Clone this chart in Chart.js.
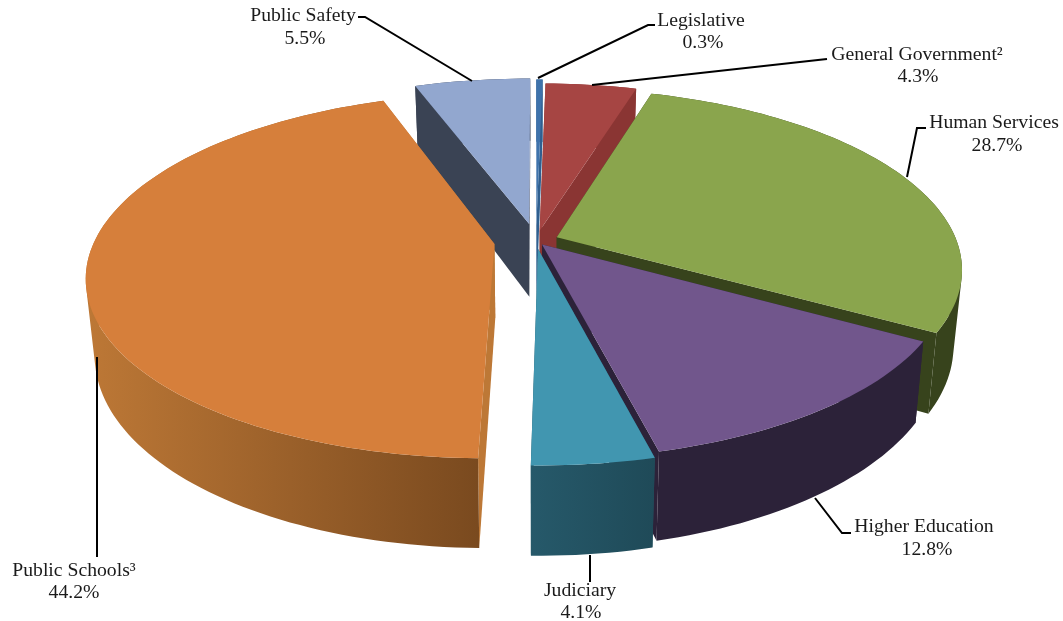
<!DOCTYPE html>
<html>
<head>
<meta charset="utf-8">
<title>Pie</title>
<script src="https://cdn.jsdelivr.net/npm/chart.js@4"></script>
<style>
    html, body { margin: 0; padding: 0; background: #fff; }
    canvas { display: block; }
</style>
</head>
<body>
<canvas id="chart" width="1063" height="621"></canvas>
<script>
const categories = ["Legislative", "General Government\u00B2", "Human Services", "Higher Education", "Judiciary", "Public Schools\u00B3", "Public Safety"];
const shares = [0.3, 4.3, 28.7, 12.8, 4.1, 44.2, 5.5];
const explodePercent = [9, 6, 5.6, 2.5, 4.5, 10.5, 10];

const topColors = ["#3f73ab", "#a64543", "#8aa54d", "#71568c", "#4196b0", "#d67f3b", "#92a7cf"];
const sideColors = ["#2f5f8f", "#8a3533", "#37431c", "#2c2239", "#245463", "#bd7836", "#3a4354"];
const wallStart = ["#2f5f8f", "#8a3533", "#37431c", "#2c2239", "#26596a", "#bd7836", "#3a4354"];
const wallEnd = ["#2f5f8f", "#8a3533", "#37431c", "#2c2239", "#1f4a58", "#7a4a1f", "#3a4354"];

// label text position: centre x of name, centre x of percent, y of name
const labelSpots = [[701, 703, 20.5], [917, 918, 54.5], [994, 997, 123], [924, 927, 527], [580, 581, 590.5], [74, 74, 570.5], [303, 305, 16]];
const leaderLines = [
    [[538, 78], [648, 25], [655, 25]],
    [[592, 85], [827, 59]],
    [[907, 177], [917, 128], [926, 128]],
    [[815, 498], [842, 533], [851, 533]],
    [[590, 555], [590, 582]],
    [[97, 357], [97, 557]],
    [[472, 81], [365, 17], [358, 17]],
];

// view of the tilted disc
const view = { cx: 536, cy: 241, rx: 400, ry: 176, persp: 0.173, depth: 74, shrink: 0.02 };

function project(u, v, low) {
    const w = 1 - view.persp * v;
    let x = view.cx + view.rx * u / w;
    let y = view.cy + view.ry * v / w;
    if (low) {
        x = view.cx + (x - view.cx) * (1 - view.shrink);
        y += view.depth / w;
    }
    return [x, y];
}

function arcPoints(s, low) {
    const pts = [];
    const steps = Math.max(4, Math.ceil((s.end - s.start) * 40));
    for (let i = 0; i <= steps; i++) {
        const a = s.start + (s.end - s.start) * i / steps;
        pts.push(project(s.ox + Math.cos(a), s.oy + Math.sin(a), low));
    }
    return pts;
}

function tracePoly(ctx, pts) {
    pts.forEach((p, i) => (i ? ctx.lineTo(p[0], p[1]) : ctx.moveTo(p[0], p[1])));
    ctx.closePath();
}

function fillPoly(ctx, pts, fill) {
    ctx.beginPath();
    tracePoly(ctx, pts);
    ctx.fillStyle = fill;
    ctx.fill();
}

function signedArea(pts) {
    let sum = 0;
    pts.forEach((p, i) => {
        const q = pts[(i + 1) % pts.length];
        sum += p[0] * q[1] - q[0] * p[1];
    });
    return sum;
}

function drawSlice(ctx, s) {
    const apexTop = project(s.ox, s.oy, false);
    const apexLow = project(s.ox, s.oy, true);
    const top = arcPoints(s, false);
    const low = arcPoints(s, true);
    const last = top.length - 1;

    // radial walls
    fillPoly(ctx, [apexTop, top[0], low[0], apexLow], sideColors[s.index]);
    fillPoly(ctx, [apexTop, top[last], low[last], apexLow], sideColors[s.index]);

    // rim wall: all quads in one path, same winding, so no seams and a straight silhouette at the fold
    const xs = top.map((p) => p[0]);
    const grad = ctx.createLinearGradient(Math.min(...xs), 0, Math.max(...xs), 0);
    grad.addColorStop(0, wallStart[s.index]);
    grad.addColorStop(1, wallEnd[s.index]);
    ctx.beginPath();
    for (let i = 0; i < last; i++) {
        const quad = [top[i], top[i + 1], low[i + 1], low[i]];
        tracePoly(ctx, signedArea(quad) < 0 ? quad.reverse() : quad);
    }
    ctx.fillStyle = grad;
    ctx.fill();

    // top face
    fillPoly(ctx, [apexTop].concat(top), topColors[s.index]);
}

function drawLabels(ctx) {
    ctx.strokeStyle = "#000";
    ctx.lineWidth = 2;
    leaderLines.forEach((line) => {
        ctx.beginPath();
        line.forEach((p, i) => (i ? ctx.lineTo(p[0], p[1]) : ctx.moveTo(p[0], p[1])));
        ctx.stroke();
    });

    ctx.fillStyle = "#1a1a1a";
    ctx.font = '19.7px "Liberation Serif"';
    ctx.textAlign = "center";
    ctx.textBaseline = "middle";
    categories.forEach((name, i) => {
        const spot = labelSpots[i];
        ctx.fillText(name, spot[0], spot[2]);
        ctx.fillText(shares[i].toFixed(1) + "%", spot[1], spot[2] + 22.5);
    });
}

// Chart.js works out the slice angles and explode offsets, this plugin puts them on the tilted disc
const tiltedPie = {
    id: "tiltedPie",
    beforeDatasetsDraw() {
        return false;
    },
    afterDraw(chart) {
        const ctx = chart.ctx;
        const slices = chart.getDatasetMeta(0).data.map((arc, index) => {
            const mid = (arc.startAngle + arc.endAngle) / 2;
            const d = arc.options.offset / 100;
            return {
                index: index,
                start: arc.startAngle,
                end: arc.endAngle,
                ox: d * Math.cos(mid),
                oy: d * Math.sin(mid),
                depthOrder: Math.sin(mid),
            };
        });
        slices.sort((a, b) => a.depthOrder - b.depthOrder);
        slices.forEach((s) => drawSlice(ctx, s));
        drawLabels(ctx);
    },
};

new Chart(document.getElementById("chart").getContext("2d"), {
    type: "pie",
    data: {
        labels: categories,
        datasets: [
            {
                data: shares,
                backgroundColor: topColors,
                borderWidth: 0,
                offset: explodePercent,
            },
        ],
    },
    options: {
        responsive: false,
        animation: false,
        plugins: {
            legend: { display: false },
            tooltip: { enabled: false },
        },
    },
    plugins: [tiltedPie],
});
</script>
</body>
</html>
